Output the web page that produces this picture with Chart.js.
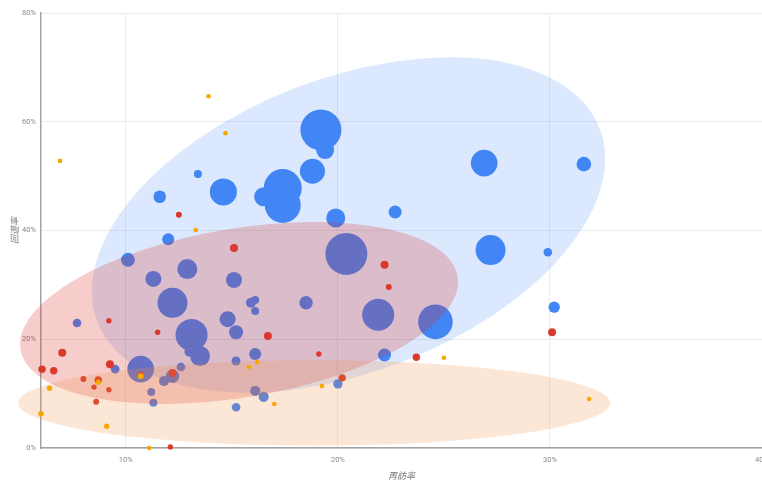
<!DOCTYPE html>
<html lang="ja">
<head>
<meta charset="utf-8">
<title>再訪率 × 回遊率</title>
<script src="https://cdn.jsdelivr.net/npm/chart.js@4.4.1/dist/chart.umd.min.js"></script>
<style>
    html, body { margin: 0; padding: 0; background: #fff; overflow: hidden; }
    #wrap { width: 790px; height: 482px; }
</style>
</head>
<body>
<div id="wrap"><canvas id="bubbleChart" width="790" height="482"></canvas></div>
<script>
// Axis ticks (percent)
const xTicks = [10, 20, 30, 40];
const yTicks = [0, 20, 40, 60, 80];

// Blue series
const blueX = [19.2, 19.4, 18.8, 17.4, 17.4, 16.5, 14.6, 13.4, 19.9, 20.4, 11.6, 12.0, 10.1, 22.7, 26.9, 31.6, 27.2, 29.9, 30.2, 24.6,
               21.9, 22.2, 20.0, 18.5, 11.3, 12.9, 15.1, 12.2, 15.9, 16.1, 16.1, 14.8, 15.2, 13.1, 13.5, 13.0, 16.1, 15.2, 16.1, 16.5,
               15.2, 7.7, 9.5, 10.7, 11.8, 12.2, 12.6, 11.2, 11.3];
const blueY = [58.5, 54.8, 50.9, 47.8, 44.7, 46.2, 47.1, 50.4, 42.3, 35.7, 46.2, 38.4, 34.6, 43.4, 52.4, 52.2, 36.4, 36.0, 25.9, 23.2,
               24.5, 17.1, 11.8, 26.7, 31.1, 32.9, 30.9, 26.7, 26.7, 27.2, 25.2, 23.7, 21.3, 20.8, 16.9, 17.7, 17.3, 16.0, 10.5, 9.4,
               7.5, 23.0, 14.5, 14.5, 12.3, 13.2, 14.9, 10.3, 8.3];
const blueSize = [20.5, 9, 12.5, 19, 18, 9.5, 13.5, 4, 9.5, 21, 6.3, 6, 7, 6.5, 13.3, 7.3, 15, 4.3, 5.7, 17.3,
                  16, 6.5, 4.7, 6.7, 8, 10, 8, 15, 5, 4, 4, 8, 7, 16, 10, 5, 6, 4.5, 5, 5,
                  4.3, 4.3, 4.3, 13.3, 5, 6.7, 4.3, 4, 4];

// Red series
const redX = [12.5, 15.1, 22.2, 22.4, 30.1, 23.7, 20.2, 19.1, 16.7, 9.2, 11.5, 7.0, 6.05, 6.6, 9.25, 8.0, 8.7, 8.5, 9.2, 8.6, 12.2, 12.1, 10.7];
const redY = [42.9, 36.8, 33.7, 29.6, 21.3, 16.7, 12.9, 17.3, 20.6, 23.4, 21.3, 17.5, 14.5, 14.2, 15.4, 12.7, 12.5, 11.2, 10.7, 8.5, 13.8, 0.2, 13.4];
const redSize = [3, 4, 4, 3, 4, 3.7, 3.7, 2.7, 4, 2.7, 2.7, 4, 3.7, 3.7, 4, 3, 3.7, 2.7, 2.7, 3, 4, 2.7, 3.5];

// Orange series
const orangeX = [6.9, 13.9, 14.7, 13.3, 15.8, 16.2, 17.0, 19.25, 25.0, 31.85, 10.7, 8.7, 6.4, 6.0, 9.1, 11.1];
const orangeY = [52.8, 64.7, 57.9, 40.1, 14.9, 15.8, 8.1, 11.4, 16.6, 9.0, 13.2, 12.1, 11.0, 6.3, 4.0, 0];
const orangeSize = [2.3, 2.3, 2.3, 2.2, 2.3, 2.3, 2.3, 2.3, 2.3, 2.3, 3, 2.7, 2.7, 2.7, 2.7, 2.3];

// Cluster ellipses (blue, red, orange): centre and spread in axis units, tilt in degrees
const ellipseCenterX = [20.5, 15.34, 18.88];
const ellipseCenterY = [41.0, 24.83, 8.28];
const ellipseSpreadX = [12.69, 10.45, 13.96];
const ellipseSpreadY = [27.03, 15.52, 7.85];
const ellipseTilt = [-21, -9.5, 0];

const seriesColors = ['#4285F4', '#DA3A2D', '#F6A800'];
const ellipseColors = ['rgba(66,133,244,0.19)', 'rgba(217,48,37,0.24)', 'rgba(240,140,70,0.22)'];

function toPoints(xs, ys, rs) {
    return xs.map((x, i) => ({ x: x, y: ys[i], r: rs[i] }));
}

// Each cluster ellipse is painted right before its own series,
// so later ellipses tint the bubbles of earlier series.
const clusterEllipses = {
    id: 'clusterEllipses',
    beforeDatasetDraw(chart, args) {
        const i = args.index;
        if (ellipseCenterX[i] === undefined) return;
        const xs = chart.scales.x;
        const ys = chart.scales.y;
        const cx = xs.getPixelForValue(ellipseCenterX[i]);
        const cy = ys.getPixelForValue(ellipseCenterY[i]);
        const rx = Math.abs(xs.getPixelForValue(ellipseCenterX[i] + ellipseSpreadX[i]) - cx);
        const ry = Math.abs(ys.getPixelForValue(ellipseCenterY[i] + ellipseSpreadY[i]) - cy);
        const ctx = chart.ctx;
        ctx.save();
        ctx.fillStyle = ellipseColors[i];
        ctx.beginPath();
        ctx.ellipse(cx, cy, rx, ry, ellipseTilt[i] * Math.PI / 180, 0, Math.PI * 2);
        ctx.fill();
        ctx.restore();
    }
};

const tickFont = { family: 'Roboto, "Noto Sans", sans-serif', size: 7.5 };
const titleFont = { family: '"Noto Sans CJK JP", sans-serif', size: 9, style: 'italic' };

new Chart(document.getElementById('bubbleChart'), {
    type: 'bubble',
    data: {
        datasets: [
            { label: 'blue', data: toPoints(blueX, blueY, blueSize), backgroundColor: seriesColors[0], order: 3 },
            { label: 'red', data: toPoints(redX, redY, redSize), backgroundColor: seriesColors[1], order: 2 },
            { label: 'orange', data: toPoints(orangeX, orangeY, orangeSize), backgroundColor: seriesColors[2], order: 1 }
        ].map(ds => Object.assign(ds, { borderWidth: 0, clip: false, hoverRadius: 0 }))
    },
    options: {
        responsive: false,
        animation: false,
        events: [],
        layout: { autoPadding: false, padding: { top: 13, right: 28, left: 0, bottom: 0 } },
        plugins: {
            legend: { display: false },
            tooltip: { enabled: false }
        },
        scales: {
            x: {
                type: 'linear',
                position: 'bottom',
                min: 6,
                max: 40,
                afterBuildTicks: s => { s.ticks = xTicks.map(v => ({ value: v })); },
                afterFit: s => { s.height = 34; },
                grid: { color: '#ececec', drawTicks: false },
                border: { color: '#a3a3a3', width: 1.5 },
                ticks: { font: tickFont, color: '#8a8a8a', padding: 8, maxRotation: 0, callback: v => v + '%' },
                title: { display: true, text: '再訪率', font: titleFont, color: '#7a7a7a', padding: { top: 0, bottom: 1 } }
            },
            y: {
                type: 'linear',
                min: 0,
                max: 80,
                afterBuildTicks: s => { s.ticks = yTicks.map(v => ({ value: v })); },
                afterFit: s => { s.width = 41; },
                grid: { color: '#ececec', drawTicks: false },
                border: { color: '#a3a3a3', width: 1.5 },
                ticks: { font: tickFont, color: '#8a8a8a', padding: 5, callback: v => v + '%' },
                title: { display: true, text: '回遊率', font: titleFont, color: '#7a7a7a', padding: { top: 9, bottom: 0 } }
            }
        }
    },
    plugins: [clusterEllipses]
});
</script>
</body>
</html>
